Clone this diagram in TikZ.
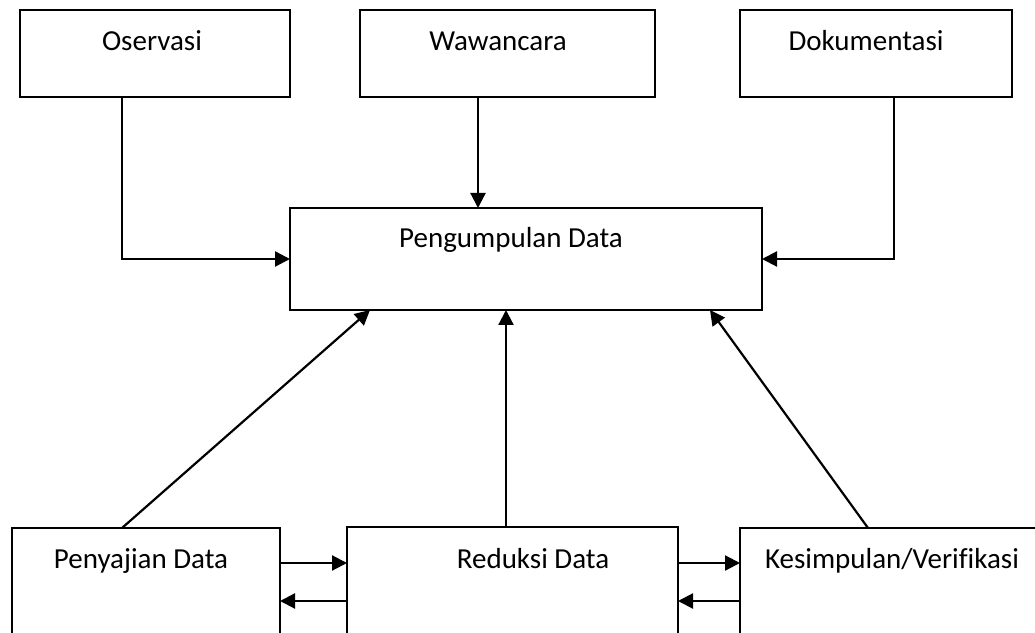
\documentclass[tikz,border=0pt]{standalone}
\usepackage{fontspec}
\setmainfont{Carlito}[Ligatures=NoCommon]
\usetikzlibrary{arrows.meta,calc}

\begin{document}
\begin{tikzpicture}[x=1pt,y=1pt,
    kotak/.style={draw=black,line width=2pt,rectangle,inner sep=0pt,outer sep=0pt},
    teks/.style={anchor=base,inner sep=0pt,outer sep=0pt,font=\fontsize{29}{35}\selectfont},
    panah/.style={draw=black,line width=2.2pt,-{Triangle[length=15pt,width=15pt]}}]
\path[use as bounding box,fill=white] (0,0) rectangle (1035,632);
\begin{scope}
\clip (0,0) rectangle (1035,632);

\node[kotak,minimum width=270pt,minimum height=87pt] (obs) at (155,578.5) {};
\node[kotak,minimum width=295pt,minimum height=87pt] (waw) at (507.5,578.5) {};
\node[kotak,minimum width=272pt,minimum height=87pt] (dok) at (876,578.5) {};
\node[kotak,minimum width=472pt,minimum height=102pt] (kumpul) at (526,373) {};

\node[kotak,minimum width=268pt,minimum height=120pt] (saji) at (146,44) {};
\node[kotak,minimum width=331pt,minimum height=120pt] (reduksi) at (512.5,45) {};
\node[kotak,minimum width=305pt,minimum height=120pt] (simpul) at (892.5,44) {};

\node[teks] (tobs) at (152,581) {Oservasi};
\node[teks] (twaw) at (498,581) {Wawancara};
\node[teks] (tdok) at (866,581) {Dokumentasi};
\node[teks] (tkumpul) at (511,384) {Pengumpulan Data};
\node[teks] (tsaji) at (141,64) {Penyajian Data};
\node[teks] (treduksi) at (533,64) {Reduksi Data};
\node[teks] (tsimpul) at (892,64) {Kesimpulan/Verifikasi};

\draw[panah] ([xshift=-33pt]obs.south) |- (kumpul.west);
\draw[panah] ([xshift=-29.5pt]waw.south) -- ([xshift=-29.5pt]waw.south |- kumpul.north);
\draw[panah] ([xshift=18pt]dok.south) |- (kumpul.east);

\draw[panah] ([xshift=-24pt]saji.north) -- ([xshift=-156pt]kumpul.south);
\draw[panah] ([xshift=-6.5pt]reduksi.north) -- ([xshift=-6.5pt]reduksi.north |- kumpul.south);
\draw[panah] ([xshift=-24.5pt]simpul.north) -- ([xshift=184pt]kumpul.south);

\draw[panah] ([yshift=-35pt]saji.north east) -- ([yshift=-35pt]saji.north east -| reduksi.west);
\draw[panah] ([yshift=-73pt]saji.north east -| reduksi.west) -- ([yshift=-73pt]saji.north east);
\draw[panah] ([yshift=-36pt]reduksi.north east) -- ([yshift=-36pt]reduksi.north east -| simpul.west);
\draw[panah] ([yshift=-74pt]reduksi.north east -| simpul.west) -- ([yshift=-74pt]reduksi.north east);
\end{scope}
\end{tikzpicture}
\end{document}
